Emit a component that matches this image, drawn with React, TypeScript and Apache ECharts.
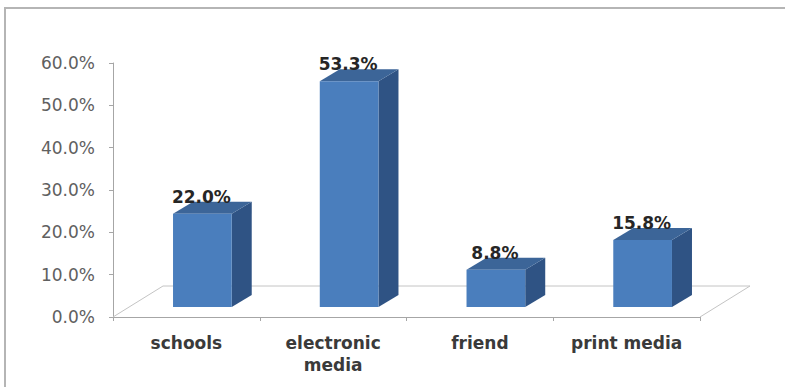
import { useEffect, useRef } from "react";
import * as echarts from "echarts";

// Sources of information, share of respondents (%)
const categories = ["schools", "electronic\nmedia", "friend", "print media"];
const shares = [22.0, 53.3, 8.8, 15.8];

// Value axis range
const yMin = 0;
const yMax = 60;
const yStep = 10;

const FONT = "'DejaVu Sans', Verdana, sans-serif";

const FRONT = "#4a7ebd";
const TOP = "#3c6598";
const SIDE = "#2f5384";

export default function App() {
  const ref = useRef<HTMLDivElement>(null);

  useEffect(() => {
    if (!ref.current) return;
    const chart = echarts.init(ref.current, undefined, { renderer: "svg" });

    // oblique projection offsets
    const floorDepth = [50, -31];
    const frontShift = [16, -10];
    const barDepth = [20, -12];

    const option: any = {
      animation: false,
      backgroundColor: "#ffffff",
      graphic: [
        {
          type: "rect",
          shape: { x: 5, y: 8, width: 820, height: 420 },
          style: { fill: "none", stroke: "#b5b5b5", lineWidth: 2 },
          silent: true,
        },
      ],
      grid: { left: 113, right: 85, top: 63, bottom: 70, containLabel: false },
      xAxis: {
        type: "category",
        data: categories,
        boundaryGap: true,
        axisLine: { show: true, lineStyle: { color: "#a6a6a6", width: 1 } },
        axisTick: { show: true, length: 4, lineStyle: { color: "#a6a6a6" } },
        axisLabel: {
          interval: 0,
          margin: 15,
          fontFamily: FONT,
          fontSize: 17,
          fontWeight: "bold",
          color: "#3a3a3a",
          lineHeight: 22,
        },
        splitLine: { show: false },
      },
      yAxis: {
        type: "value",
        min: yMin,
        max: yMax,
        interval: yStep,
        axisLine: { show: true, lineStyle: { color: "#a6a6a6", width: 1 } },
        axisTick: { show: true, length: 4, lineStyle: { color: "#a6a6a6" } },
        axisLabel: {
          margin: 18,
          fontFamily: FONT,
          fontSize: 17,
          color: "#606060",
          formatter: (v: number) => `${v.toFixed(1)}%`,
        },
        splitLine: { show: false },
      },
      series: [
        {
          // floor of the 3D plot area
          type: "custom",
          silent: true,
          z: 1,
          data: [[0, 0]],
          encode: { x: 0, y: 1 },
          renderItem: (_params: any, api: any) => {
            const band = api.size([1, 0])[0];
            const first = api.coord([0, 0]);
            const last = api.coord([categories.length - 1, 0]);
            const lx = first[0] - band / 2;
            const rx = last[0] + band / 2;
            const y = first[1];
            return {
              type: "polyline",
              shape: {
                points: [
                  [lx, y],
                  [lx + floorDepth[0], y + floorDepth[1]],
                  [rx + floorDepth[0], y + floorDepth[1]],
                  [rx, y],
                ],
              },
              style: { fill: "none", stroke: "#c4c4c4", lineWidth: 1 },
            };
          },
        },
        {
          type: "custom",
          z: 2,
          data: shares.map((v, i) => [i, v]),
          encode: { x: 0, y: 1 },
          renderItem: (_params: any, api: any) => {
            const idx = api.value(0);
            const val = api.value(1);
            const base = api.coord([idx, 0]);
            const top = api.coord([idx, val]);
            const band = api.size([1, 0])[0];
            const w = band * 0.4;
            const cx = base[0] + frontShift[0];
            const x0 = cx - w / 2;
            const x1 = cx + w / 2;
            const yb = base[1] + frontShift[1];
            const yt = top[1] + frontShift[1];
            const dx = barDepth[0];
            const dy = barDepth[1];
            return {
              type: "group",
              children: [
                {
                  type: "polygon",
                  shape: {
                    points: [
                      [x1, yt],
                      [x1 + dx, yt + dy],
                      [x1 + dx, yb + dy],
                      [x1, yb],
                    ],
                  },
                  style: { fill: SIDE },
                },
                {
                  type: "polygon",
                  shape: {
                    points: [
                      [x0, yt],
                      [x1, yt],
                      [x1 + dx, yt + dy],
                      [x0 + dx, yt + dy],
                    ],
                  },
                  style: { fill: TOP },
                },
                {
                  type: "rect",
                  shape: { x: x0, y: yt, width: w, height: yb - yt },
                  style: { fill: FRONT },
                },
                {
                  type: "text",
                  x: cx - 1,
                  y: yt + dy - 5,
                  style: {
                    text: `${val.toFixed(1)}%`,
                    fill: "#262626",
                    fontFamily: FONT,
                    fontSize: 17,
                    fontWeight: "bold",
                    align: "center",
                    verticalAlign: "middle",
                  },
                },
              ],
            };
          },
        },
      ],
    };

    chart.setOption(option);
    return () => chart.dispose();
  }, []);

  return (
    <div
      ref={ref}
      style={{ position: "absolute", left: 0, top: 0, width: 785, height: 387 }}
    />
  );
}
